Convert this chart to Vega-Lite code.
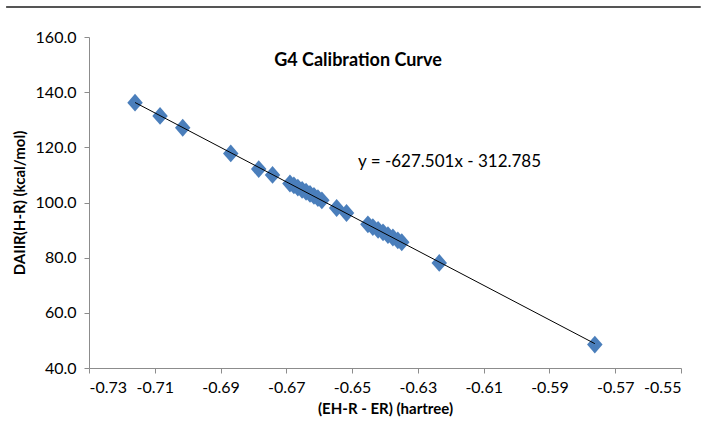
{
  "$schema": "https://vega.github.io/schema/vega-lite/v6.json",
  "width": 592,
  "height": 331,
  "autosize": "none",
  "padding": {"left": 89, "top": 37, "right": 20, "bottom": 63},
  "background": "white",
  "config": {
    "view": {"stroke": null},
    "font": "Lato",
    "axis": {
      "grid": false,
      "domainColor": "#8c8c8c",
      "tickColor": "#8c8c8c",
      "tickSize": 5,
      "labelFont": "Lato",
      "labelFontSize": 16,
      "labelColor": "#000000",
      "titleFont": "Lato",
      "titleFontSize": 15,
      "titleFontWeight": "bold",
      "titleColor": "#000000"
    }
  },
  "datasets": {
    "points": [
      {"dE": -0.7160, "D": 136.2},
      {"dE": -0.7084, "D": 131.4},
      {"dE": -0.7015, "D": 127.1},
      {"dE": -0.6869, "D": 117.8},
      {"dE": -0.6784, "D": 112.1},
      {"dE": -0.6742, "D": 110.0},
      {"dE": -0.6689, "D": 106.9},
      {"dE": -0.6677, "D": 106.2},
      {"dE": -0.6665, "D": 105.4},
      {"dE": -0.6652, "D": 104.6},
      {"dE": -0.6640, "D": 103.9},
      {"dE": -0.6628, "D": 103.1},
      {"dE": -0.6616, "D": 102.4},
      {"dE": -0.6604, "D": 101.6},
      {"dE": -0.6592, "D": 100.8},
      {"dE": -0.6547, "D": 98.0},
      {"dE": -0.6517, "D": 96.2},
      {"dE": -0.6452, "D": 92.1},
      {"dE": -0.6437, "D": 91.1},
      {"dE": -0.6421, "D": 90.1},
      {"dE": -0.6406, "D": 89.2},
      {"dE": -0.6391, "D": 88.2},
      {"dE": -0.6376, "D": 87.3},
      {"dE": -0.6361, "D": 86.3},
      {"dE": -0.6349, "D": 85.6},
      {"dE": -0.6235, "D": 78.1},
      {"dE": -0.5762, "D": 48.5}
    ],
    "labels": [
      {"dE": -0.6482, "D": 112.9, "label": "y = -627.501x - 312.785", "kind": "equation"},
      {"dE": -0.6482, "D": 149.5, "label": "G4 Calibration Curve", "kind": "title"}
    ]
  },
  "layer": [
    {
      "data": {"name": "points"},
      "mark": {"type": "point", "shape": "M-1,0L0,-1.15L1,0L0,1.15Z", "filled": true, "size": 240, "color": "#4a7ebb", "opacity": 1, "strokeWidth": 0},
      "encoding": {
        "x": {
          "field": "dE",
          "type": "quantitative",
          "scale": {"domain": [-0.73, -0.55], "nice": false, "zero": false},
          "axis": {
            "title": "(EH-R - ER) (hartree)",
            "values": [-0.73, -0.71, -0.69, -0.67, -0.65, -0.63, -0.61, -0.59, -0.57, -0.55],
            "format": ".2f",
            "labelExpr": "replace(datum.label, '\u2212', '-')",
            "labelPadding": 6,
            "titlePadding": 6
          }
        },
        "y": {
          "field": "D",
          "type": "quantitative",
          "scale": {"domain": [40, 160], "nice": false, "zero": false},
          "axis": {
            "title": "DAIIR(H-R) (kcal/mol)",
            "values": [40, 60, 80, 100, 120, 140, 160],
            "format": ".1f",
            "labelPadding": 8,
            "titlePadding": 8
          }
        }
      }
    },
    {
      "data": {"name": "points"},
      "transform": [{"regression": "D", "on": "dE"}],
      "mark": {"type": "line", "color": "#000000", "strokeWidth": 1},
      "encoding": {
        "x": {"field": "dE", "type": "quantitative"},
        "y": {"field": "D", "type": "quantitative"}
      }
    },
    {
      "data": {"name": "labels"},
      "transform": [{"filter": "datum.kind === 'equation'"}],
      "mark": {"type": "text", "align": "left", "baseline": "alphabetic", "font": "Lato", "fontSize": 17, "color": "#000000"},
      "encoding": {
        "x": {"field": "dE", "type": "quantitative"},
        "y": {"field": "D", "type": "quantitative"},
        "text": {"field": "label"}
      }
    },
    {
      "data": {"name": "labels"},
      "transform": [{"filter": "datum.kind === 'title'"}],
      "mark": {"type": "text", "align": "center", "baseline": "alphabetic", "font": "Lato", "fontSize": 18, "fontWeight": "bold", "color": "#000000"},
      "encoding": {
        "x": {"field": "dE", "type": "quantitative"},
        "y": {"field": "D", "type": "quantitative"},
        "text": {"field": "label"}
      }
    },
    {
      "data": {"values": [{"a": 1}]},
      "mark": {"type": "rule", "color": "#555555", "strokeWidth": 2, "clip": false},
      "encoding": {
        "x": {"datum": -0.7552},
        "x2": {"datum": -0.544},
        "y": {"datum": 170.9}
      }
    }
  ]
}
